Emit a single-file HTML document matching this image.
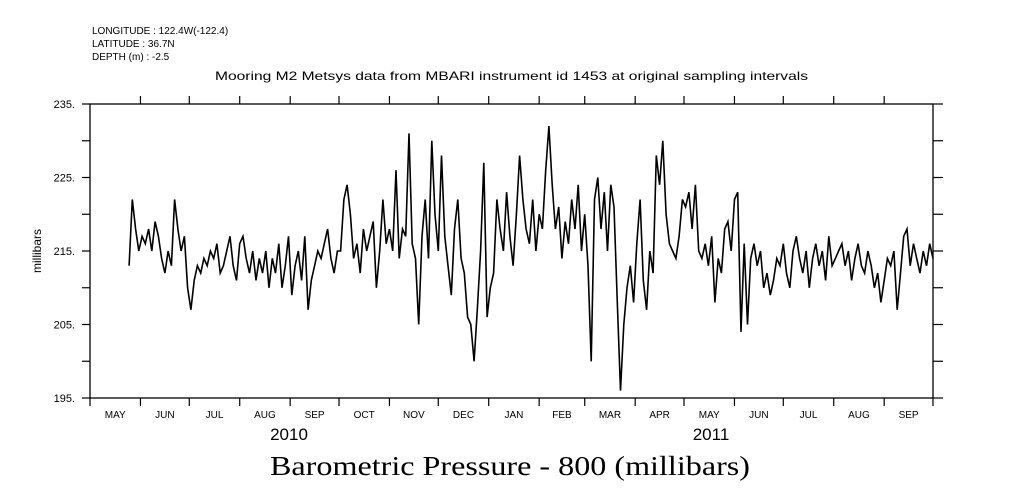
<!DOCTYPE html>
<html><head><meta charset="utf-8"><style>
body{margin:0;background:#fff;}
svg{display:block;font-family:"Liberation Sans",sans-serif;}
</style></head><body>
<svg id="chart" width="1009" height="504">
<g font-size="10" fill="#000">
<text x="92" y="34">LONGITUDE : 122.4W(-122.4)</text>
<text x="92" y="47">LATITUDE : 36.7N</text>
<text x="92" y="60">DEPTH (m) : -2.5</text>
<text x="215" y="80" textLength="593" lengthAdjust="spacingAndGlyphs" font-size="12">Mooring M2 Metsys data from MBARI instrument id 1453 at original sampling intervals</text>
</g>
<text transform="translate(41,251) rotate(-90)" text-anchor="middle" font-size="12">millibars</text>
<text x="270" y="475" textLength="480" lengthAdjust="spacingAndGlyphs" font-family="'Liberation Serif',serif" font-size="27">Barometric Pressure - 800 (millibars)</text>
<g id="axes"></g>
<g id="series"></g>
</svg>
<script>
const yTicks=[195,205,215,225,235];
const monthLabels=["MAY","JUN","JUL","AUG","SEP","OCT","NOV","DEC","JAN","FEB","MAR","APR","MAY","JUN","JUL","AUG","SEP"];
const yearLabels=["2010","2011"];
const startDay=24; // days after May 1 2010
const stepDays=2;
const values=[
213,222,218,215,
217,216,218,215,219,217,214,212,215,213,222,218,215,217,210,
207,211,213,212,214,213,215,214,216,212,213,215,217,213,211,
216,217,214,212,215,211,214,212,215,210,214,212,216,210,213,217,
209,213,215,211,217,207,211,213,215,214,216,218,214,212,215,
215,222,224,220,214,216,212,218,215,217,219,210,215,222,216,218,
215,226,214,218,217,231,216,214,205,217,222,214,230,220,215,
228,217,213,209,218,222,214,212,206,205,200,207,215,227,206,210,
212,222,218,215,223,217,213,220,228,222,218,216,222,215,220,218,
226,232,224,218,221,214,219,216,222,218,224,215,220,213,200,
222,225,218,223,215,224,221,208,196,205,210,213,208,216,222,211,
207,215,212,228,224,230,220,216,215,214,217,222,221,223,218,
224,215,214,216,213,217,208,214,212,218,219,215,222,223,204,216,
205,214,216,213,215,210,212,209,211,214,213,216,212,210,215,
217,214,212,215,210,214,216,213,215,211,217,213,214,215,216,
213,215,211,214,216,213,212,215,213,210,212,208,211,214,213,215,
207,212,217,218,213,216,214,212,215,213,216,214
];
const monthDays=[31,30,31,31,30,31,30,31,31,28,31,30,31,30,31,31,30];
const X0=90,X1=933,Y0=104,Y1=398,totalDays=518,yMin=195,yMax=235;
const xs=d=>X0+(d/totalDays)*(X1-X0);
const ys=v=>Y1-(v-yMin)/(yMax-yMin)*(Y1-Y0);
const NS="http://www.w3.org/2000/svg";
const ax=document.getElementById('axes'),sr=document.getElementById('series');
function mk(tag,at,par){const e=document.createElementNS(NS,tag);for(const k in at)e.setAttribute(k,at[k]);par.appendChild(e);return e;}
const frame=mk('rect',{x:X0,y:Y0,width:X1-X0,height:Y1-Y0,fill:'none',stroke:'#000','stroke-width':1.3},ax);


for(let v=yMin;v<=yMax;v+=5){
 const y=ys(v);
 const tl=mk('line',{x1:X0-8,x2:X0,y1:y,y2:y,stroke:'#000','stroke-width':1.2},ax);
 
 
 const tr=mk('line',{x1:X1,x2:X1+10,y1:y,y2:y,stroke:'#000','stroke-width':1.2},ax);
 
 
}
yTicks.forEach(v=>{
 const t=mk('text',{x:75,y:ys(v)+4,'text-anchor':'end','font-size':11},ax);
 t.textContent=v+'.';
 
 
});
let d=0;
for(let i=0;i<monthDays.length;i++){
 const xa=xs(d),xb=xs(d+monthDays[i]);
 if(i>0){
  const tt=mk('line',{x1:xa,x2:xa,y1:Y0-8,y2:Y0,stroke:'#000','stroke-width':1.2},ax);
  
  
 }
 const tb=mk('line',{x1:xa,x2:xa,y1:Y1,y2:Y1+8,stroke:'#000','stroke-width':1.2},ax);
 
 
 const t=mk('text',{x:(xa+xb)/2,y:418,'text-anchor':'middle','font-size':10},ax);
 t.textContent=monthLabels[i];
 
 
 d+=monthDays[i];
}
const bt=mk('line',{x1:X1,x2:X1,y1:Y1,y2:Y1+8,stroke:'#000','stroke-width':1.2},ax);


[[289,0],[711,1]].forEach(([x,i])=>{
 const t=mk('text',{x:x,y:440,'text-anchor':'middle','font-size':17},ax);
 t.textContent=yearLabels[i];
 
 
});
let p='';
values.forEach((v,i)=>{const x=xs(startDay+i*stepDays),y=ys(v);p+=(i?'L':'M')+x.toFixed(1)+' '+y.toFixed(1);});
const line=mk('path',{d:p,fill:'none',stroke:'#000','stroke-width':1.6,'stroke-linejoin':'miter'},sr);


</script>
</body></html>
